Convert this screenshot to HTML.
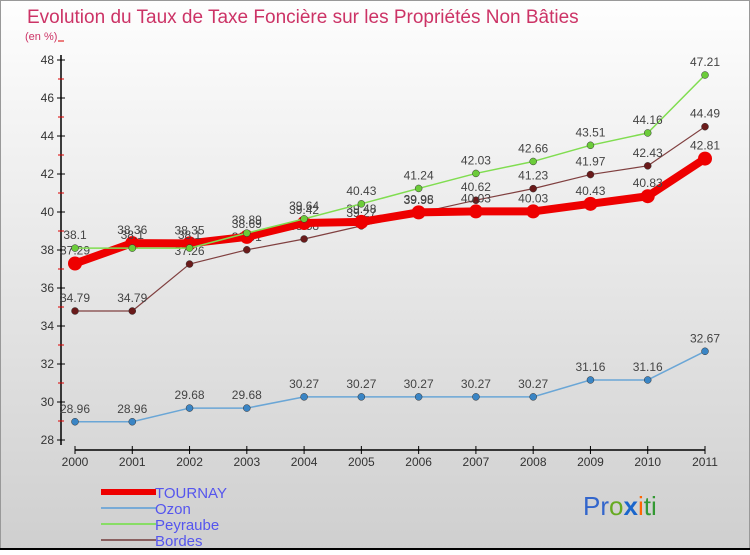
<!DOCTYPE html>
<html><head><meta charset="utf-8"><style>
body{margin:0;width:750px;height:550px;overflow:hidden;font-family:"Liberation Sans",sans-serif}
svg text{font-family:"Liberation Sans",sans-serif}
</style></head><body>
<svg id="c" width="750" height="550" xmlns="http://www.w3.org/2000/svg">
<defs><linearGradient id="bg" x1="0" y1="0" x2="0" y2="1"><stop offset="0" stop-color="#fefefe"/><stop offset="1" stop-color="#cfcfcf"/></linearGradient></defs>
<rect width="750" height="550" fill="url(#bg)"/>
<rect x="0.5" y="0.5" width="749" height="548" fill="none" stroke="#999"/>
<line x1="0" y1="549" x2="750" y2="549" stroke="#000" stroke-width="2"/>
<text x="27" y="23" font-size="19" fill="#cc3366">Evolution du Taux de Taxe Foncière sur les Propriétés Non Bâties</text>
<text x="25" y="40" font-size="11" fill="#cc3366">(en %)</text>
<g id="axes"></g><g id="series"></g><g id="legend"></g>
<text x="583" y="515" font-size="26"><tspan fill="#3366cc">Pr</tspan><tspan fill="#66aa22">o</tspan><tspan fill="#1a66cc" font-weight="bold">x</tspan><tspan fill="#ff6600">i</tspan><tspan fill="#339933">ti</tspan></text>
</svg>
<script>
const years=["2000","2001","2002","2003","2004","2005","2006","2007","2008","2009","2010","2011"];
const tournay=[37.29,38.36,38.35,38.69,39.42,39.48,39.98,40.03,40.03,40.43,40.83,42.81];
const ozon=[28.96,28.96,29.68,29.68,30.27,30.27,30.27,30.27,30.27,31.16,31.16,32.67];
const peyraube=[38.1,38.1,38.1,38.89,39.64,40.43,41.24,42.03,42.66,43.51,44.16,47.21];
const bordes=[34.79,34.79,37.26,38.01,38.58,39.27,39.95,40.62,41.23,41.97,42.43,44.49];
const yTicks=[28,30,32,34,36,38,40,42,44,46,48];
const NS="http://www.w3.org/2000/svg";
const X=i=>75+i*(630/(years.length-1));
const Y=v=>440-(v-28)*19;
function mk(t,a,p){const e=document.createElementNS(NS,t);for(const k in a)e.setAttribute(k,a[k]);p.appendChild(e);return e;}
const ax=document.getElementById('axes');
let l=mk('line',{x1:61,y1:Y(48)-5,x2:61,y2:445,stroke:'#000','stroke-width':1.5},ax);


l=mk('line',{x1:X(0),y1:450,x2:X(11),y2:450,stroke:'#000','stroke-width':1.5},ax);


yTicks.forEach(v=>{
 mk('line',{x1:57,y1:Y(v),x2:65,y2:Y(v),stroke:'#000'},ax);
 mk('line',{x1:58,y1:Y(v+1),x2:64,y2:Y(v+1),stroke:'#d00'},ax);
 const t=mk('text',{x:54,y:Y(v)+4,'font-size':12,fill:'#333','text-anchor':'end'},ax);t.textContent=v;
 
 
});
years.forEach((y,i)=>{
 mk('line',{x1:X(i),y1:446,x2:X(i),y2:454,stroke:'#000'},ax);
 const t=mk('text',{x:X(i),y:466,'font-size':12,fill:'#333','text-anchor':'middle'},ax);t.textContent=y;
 
 
});
const sg=document.getElementById('series');
function draw(name,vals,color,w,r,pc){
 const g=mk('g',{},sg);
 
 
 mk('polyline',{points:vals.map((v,i)=>X(i)+','+Y(v)).join(' '),fill:'none',stroke:color,'stroke-width':w,'stroke-linejoin':'round'},g);
 vals.forEach((v,i)=>{
  const c=mk('circle',{cx:X(i),cy:Y(v),r:r,fill:pc,stroke:color==='#ee0000'?'#ee0000':'#333','stroke-width':color==='#ee0000'?0:0.5},g);
  
  
  const t=mk('text',{x:X(i),y:Y(v)-9,'font-size':12,fill:'#444','text-anchor':'middle'},g);t.textContent=v;
  
  
 });
}
draw('ozon',ozon,'#6aa6d6',1.5,3.5,'#3a85c5');
draw('bordes',bordes,'#804040',1.2,3.5,'#6a1a1a');
draw('tournay',tournay,'#ee0000',8,7,'#ee0000');
draw('peyraube',peyraube,'#80dd50',1.5,3.5,'#6ccc3a');
const lg=document.getElementById('legend');
const names=["TOURNAY","Ozon","Peyraube","Bordes"],cols=["#ee0000","#78aad6","#88dd66","#8a6060"],ws=[6,2,2,2];
names.forEach((n,i)=>{
 const yy=492+i*16;
 const ln=mk('line',{x1:101,y1:yy,x2:156,y2:yy,stroke:cols[i],'stroke-width':ws[i]},lg);
 
 
 const t=mk('text',{x:155,y:yy+6,'font-size':15,fill:'#5555ee'},lg);t.textContent=n;
 
 
});
</script>
</body></html>
